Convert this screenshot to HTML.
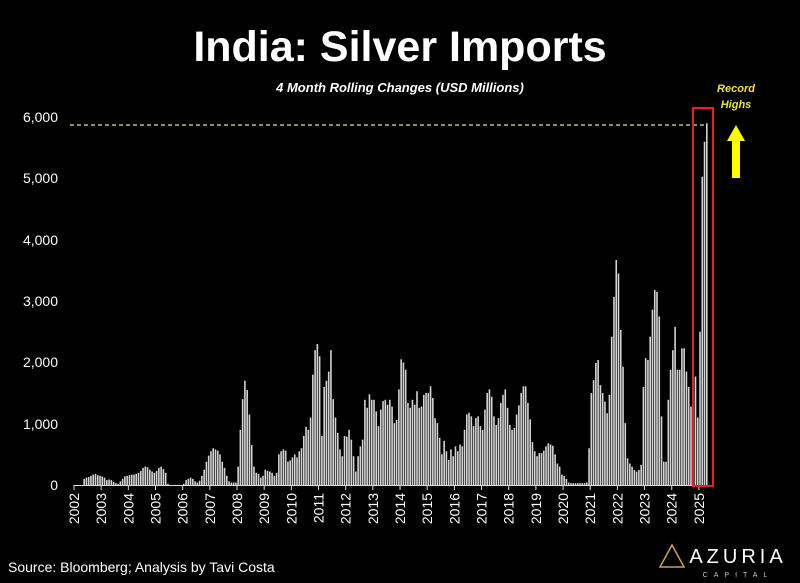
<!DOCTYPE html>
<html><head><meta charset="utf-8"><style>
html,body{margin:0;padding:0;background:#000;width:800px;height:583px;overflow:hidden}
svg{display:block}
text{font-family:"Liberation Sans",sans-serif}
</style></head><body>
<svg id="s" width="800" height="583" viewBox="0 0 800 583" xmlns="http://www.w3.org/2000/svg">
<rect width="800" height="583" fill="#000"/>
<text x="400" y="61" text-anchor="middle" font-size="43" font-weight="bold" fill="#fff">India: Silver Imports</text>
<text x="400" y="92" text-anchor="middle" font-size="13" font-weight="bold" font-style="italic" fill="#fff">4 Month Rolling Changes (USD Millions)</text>
<g font-size="14" fill="#fff" text-anchor="end">
<text x="58" y="122">6,000</text><text x="58" y="183">5,000</text><text x="58" y="245">4,000</text>
<text x="58" y="306">3,000</text><text x="58" y="367">2,000</text><text x="58" y="429">1,000</text><text x="58" y="490">0</text>
</g>
<line x1="70" y1="125" x2="705" y2="125" stroke="#e8e0a0" stroke-width="1.2" stroke-dasharray="4,3"/>
<g id="bars"></g>
<line x1="74" y1="485.5" x2="712" y2="485.5" stroke="#ddd" stroke-width="1"/>
<g id="xl"></g>
<rect x="693" y="108" width="20" height="378" fill="none" stroke="#e0202a" stroke-width="2"/>
<text x="736" y="92" text-anchor="middle" font-size="11" font-weight="bold" font-style="italic" fill="#f0e040">Record</text>
<text x="736" y="108" text-anchor="middle" font-size="11" font-weight="bold" font-style="italic" fill="#f0e040">Highs</text>
<polygon points="736,125 727,141 732,141 732,178 740,178 740,141 745,141" fill="#ffff00"/>
<text x="8" y="572" font-size="14" fill="#fff">Source: Bloomberg; Analysis by Tavi Costa</text>
<polygon points="660,567 672,545 684,567" fill="none" stroke="#c8a060" stroke-width="1.5"/>
<text x="738" y="563" text-anchor="middle" font-size="20" fill="#fff" letter-spacing="4">AZURIA</text>
<text x="738" y="577" text-anchor="middle" font-size="7" fill="#ccc" letter-spacing="6">CAPITAL</text>
</svg>
<script>
var d=[
0,0,0,0,100,120,130,150,170,180,160,150,
140,120,80,90,80,50,30,20,60,100,140,150,
160,170,170,180,200,230,280,300,290,250,220,200,
230,280,300,260,200,20,0,0,0,0,0,0,
20,80,100,120,100,60,40,70,150,250,380,480,
550,600,580,560,500,380,280,150,60,40,40,40,
300,900,1400,1700,1550,1150,650,300,200,180,120,150,
250,230,220,200,150,200,500,550,580,560,380,400,
450,500,450,550,600,800,950,900,1100,1800,2200,2300,
2100,800,1600,1700,1850,2200,1400,1100,850,580,470,800,
790,900,740,470,220,470,630,740,1390,1260,1480,1390,
1390,1200,960,1230,1370,1390,1310,1390,1280,1010,1060,1560,
2050,2000,1880,1340,1260,1390,1310,1530,1260,1280,1470,1500,
1500,1610,1420,1090,1010,770,500,720,550,410,580,470,
630,550,660,630,900,1150,1180,1120,960,1090,1120,960,
900,1230,1500,1560,1440,1120,980,1090,1340,1470,1560,1260,
980,900,930,1150,1300,1500,1610,1610,1340,1070,700,550,
470,520,520,560,630,680,660,640,500,350,300,170,
150,100,40,30,30,30,30,30,30,30,40,600,
1500,1710,1990,2040,1630,1500,1360,1170,1470,2420,3070,3670,
3450,2530,1930,1010,435,350,300,245,218,245,330,1600,
2070,2040,2420,2860,3180,3150,2750,1120,380,380,1390,1880,
2200,2580,1880,1880,2230,2230,1850,1600,1280,1090,1770,1100,
2500,5030,5600,5900];
var g=document.getElementById('bars'),h='';
for(var i=0;i<d.length;i++){var v=d[i];if(v<=0)continue;var x=74+i*27.17/12+0.3,hh=v*0.0613;
h+='<rect x="'+x.toFixed(2)+'" y="'+(485-hh).toFixed(2)+'" width="1.6" height="'+hh.toFixed(2)+'" fill="#d4d4d4"/>';}
g.innerHTML=h;
var xl='';for(var y=2002;y<=2025;y++){var x=74+(y-2002)*27.17;
xl+='<line x1="'+x+'" y1="485" x2="'+x+'" y2="490" stroke="#ddd"/>';
xl+='<text transform="translate('+(x+5)+',493) rotate(-90)" text-anchor="end" font-size="14" fill="#fff">'+y+'</text>';}
document.getElementById('xl').innerHTML=xl;
</script>
</body></html>
